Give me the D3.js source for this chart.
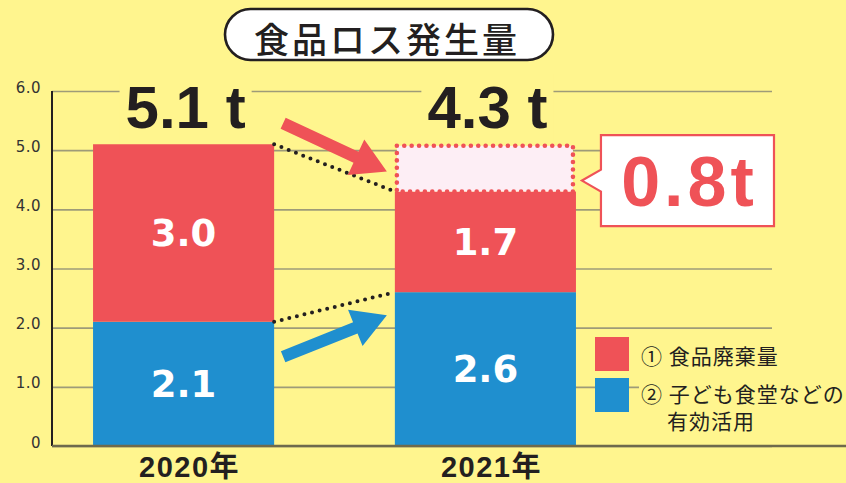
<!DOCTYPE html>
<html>
<head>
<meta charset="utf-8">
<script src="https://cdn.jsdelivr.net/npm/d3@7/dist/d3.min.js"></script>
<style>
  html, body { margin: 0; padding: 0; background: #FFF58E; }
  svg { display: block; }
</style>
</head>
<body>
<div id="chart"></div>
<script>
"use strict";

// == DATA ==
var years = ["2020年", "2021年"];
var waste = [3.0, 1.7];          // ① 食品廃棄量
var reuse = [2.1, 2.6];          // ② 子ども食堂などの有効活用
var reduction = 0.8;             // 2020 -> 2021 の減少分
var yTicks = [0, 1, 2, 3, 4, 5, 6];
var title = "食品ロス発生量";
var legendLines = [["① 食品廃棄量"], ["② 子ども食堂などの", "有効活用"]];

// == BOILERPLATE ==
var width = 846, height = 483;
var RED = "#EF5257", BLUE = "#1F8FCF", PINK = "#FDEEF5", INK = "#231F20", BG = "#FFF58E";

var svg = d3.select("#chart")
  .append("svg")
  .attr("width", width)
  .attr("height", height);

svg.append("rect").attr("width", width).attr("height", height).attr("fill", BG);

var rows = years.map(function (y, i) {
  return { year: y, reuse: reuse[i], waste: waste[i] };
});
var stack = d3.stack().keys(["reuse", "waste"])(rows);

var x = d3.scaleBand()
  .domain(years)
  .range([52, 617])
  .paddingInner(0.4)
  .paddingOuter(0.136);

var y = d3.scaleLinear()
  .domain([0, 6])
  .range([446, 91]);

// gridlines
svg.append("g")
  .attr("transform", "translate(52,0)")
  .call(d3.axisLeft(y).tickValues(yTicks).tickSize(-720).tickFormat(""))
  .call(function (g) {
    g.select(".domain").remove();
    g.selectAll("line").attr("stroke", "#9E9B78").attr("stroke-width", 1.6);
  });

// tick labels
svg.append("g")
  .attr("transform", "translate(41,0)")
  .call(d3.axisLeft(y).tickValues(yTicks).tickSize(0)
    .tickFormat(function (d) { return d === 0 ? "0" : d.toFixed(1); }))
  .call(function (g) {
    g.select(".domain").remove();
    g.selectAll("text")
      .attr("x", 0)
      .attr("dy", null)
      .attr("y", 1)
      .attr("text-anchor", "end")
      .style("font-family", "'DejaVu Sans', sans-serif")
      .style("font-size", "15px")
      .style("letter-spacing", "0.5px")
      .attr("fill", "#333");
  });

// y axis line
svg.append("line")
  .attr("x1", 52).attr("x2", 52)
  .attr("y1", y(6)).attr("y2", y(0))
  .attr("stroke", INK).attr("stroke-width", 2);

// == BARS ==
var colors = { reuse: BLUE, waste: RED };
svg.selectAll("g.layer")
  .data(stack)
  .enter()
  .append("g")
  .attr("class", "layer")
  .attr("fill", function (d) { return colors[d.key]; })
  .selectAll("rect")
  .data(function (d) { return d; })
  .enter()
  .append("rect")
  .attr("x", function (d) { return x(d.data.year); })
  .attr("y", function (d) { return y(d[1]); })
  .attr("width", x.bandwidth())
  .attr("height", function (d) { return y(d[0]) - y(d[1]); });

// reduction box (dotted) on top of 2021
var total0 = reuse[0] + waste[0], total1 = reuse[1] + waste[1];
var x1 = x(years[1]), bw = x.bandwidth();
svg.append("rect")
  .attr("x", x1 + 2)
  .attr("y", y(total1 + reduction) + 1.5)
  .attr("width", bw - 5)
  .attr("height", y(total1) - y(total1 + reduction) - 1.5)
  .attr("fill", PINK)
  .attr("stroke", RED)
  .attr("stroke-width", 4.6)
  .attr("stroke-linecap", "round")
  .attr("stroke-dasharray", "0 7.4");

// dotted connectors
var x0r = x(years[0]) + bw;
[[total0, total1], [reuse[0], reuse[1]]].forEach(function (p) {
  svg.append("line")
    .attr("x1", x0r).attr("y1", y(p[0]))
    .attr("x2", x1).attr("y2", y(p[1]))
    .attr("stroke", INK)
    .attr("stroke-width", 4)
    .attr("stroke-linecap", "round")
    .attr("stroke-dasharray", "0 7.8");
});

// arrows
function arrow(sx, sy, tx, ty, fill) {
  var dx = tx - sx, dy = ty - sy, len = Math.sqrt(dx * dx + dy * dy);
  var ux = dx / len, uy = dy / len, px = -uy, py = ux;
  var bx = tx - ux * 34, by = ty - uy * 34;
  var pts = [
    [sx + px * 6, sy + py * 6], [bx + px * 6, by + py * 6], [bx + px * 19.5, by + py * 19.5],
    [tx, ty],
    [bx - px * 19.5, by - py * 19.5], [bx - px * 6, by - py * 6], [sx - px * 6, sy - py * 6]
  ];
  svg.append("polygon").attr("points", pts.join(" ")).attr("fill", fill);
}
arrow(x0r + 9, y(total0) - 21, x1 - 8, y(total1) - 20, RED);
arrow(x0r + 9, y(reuse[0]) + 35, x1 - 8, y(reuse[1]) + 23, BLUE);

// value labels inside segments
stack.forEach(function (layer) {
  layer.forEach(function (d) {
    svg.append("text")
      .attr("x", x(d.data.year) + bw / 2)
      .attr("y", y((d[0] + d[1]) / 2))
      .attr("dy", "0.36em")
      .attr("text-anchor", "middle")
      .attr("fill", "#fff")
      .style("font-family", "'DejaVu Sans', sans-serif")
      .style("font-weight", "bold")
      .style("font-size", "37px")
      .text((d[1] - d[0]).toFixed(1));
  });
});

// totals above bars
[total0, total1].forEach(function (t, i) {
  var g = svg.append("g");
  var txt = g.append("text")
    .attr("x", x(years[i]) + bw / 2 + 2)
    .attr("y", 128)
    .attr("text-anchor", "middle")
    .attr("fill", INK)
    .style("font-family", "'Liberation Sans', Arial, sans-serif")
    .style("font-weight", "bold")
    .style("font-size", "60px")
    .text(t.toFixed(1) + " t");
  var b = txt.node().getBBox();
  g.insert("rect", "text")
    .attr("x", b.x - 6).attr("y", b.y)
    .attr("width", b.width + 12).attr("height", b.height)
    .attr("fill", BG);
});

// callout "0.8t"
var cy = y(total1) - 11, bx0 = x1 + bw + 25, bx1 = 774, tipX = x1 + bw + 6;
svg.append("path")
  .attr("d", "M" + bx0 + "," + (cy - 45.5) + "H" + bx1 + "V" + (cy + 45.5) + "H" + bx0 +
    "V" + (cy + 11) + "L" + tipX + "," + cy + "L" + bx0 + "," + (cy - 11) + "Z")
  .attr("fill", "#fff")
  .attr("stroke", RED)
  .attr("stroke-width", 2.2);
svg.append("text")
  .attr("x", (bx0 + bx1) / 2 + 2)
  .attr("y", cy + 25)
  .attr("text-anchor", "middle")
  .attr("fill", RED)
  .style("font-family", "'Liberation Sans', Arial, sans-serif")
  .style("font-weight", "bold")
  .style("font-size", "70px")
  .style("letter-spacing", "4px")
  .text(reduction.toFixed(1) + "t");

// == LEGEND ==
svg.append("rect")
  .attr("x", 639).attr("y", 340).attr("width", 140).attr("height", 95)
  .attr("fill", BG);
var legendColors = [RED, BLUE];
legendLines.forEach(function (lines, i) {
  var top = 337 + i * 41;
  svg.append("rect")
    .attr("x", 595).attr("y", top)
    .attr("width", 34).attr("height", 34)
    .attr("fill", legendColors[i]);
  var t = svg.append("text")
    .attr("fill", INK)
    .style("font-family", "'Noto Sans CJK JP', sans-serif")
    .style("font-size", "21px")
    .style("letter-spacing", "1px");
  lines.forEach(function (l, j) {
    t.append("tspan")
      .attr("x", j === 0 ? 641 : 667)
      .attr("y", top + 26 - (i === 1 ? 2 : -1) + j * 27)
      .text(l);
  });
});

// x labels
svg.selectAll("text.xlab")
  .data(years)
  .enter()
  .append("text")
  .attr("class", "xlab")
  .attr("x", function (d) { return x(d) + bw / 2 + 6; })
  .attr("y", 477)
  .attr("text-anchor", "middle")
  .attr("fill", INK)
  .style("font-family", "'Liberation Sans', 'Noto Sans CJK JP', sans-serif")
  .style("font-weight", "bold")
  .style("font-size", "29px")
  .style("letter-spacing", "1.5px")
  .text(function (d) { return d; });

// baseline
svg.append("line")
  .attr("x1", 52).attr("x2", width)
  .attr("y1", y(0)).attr("y2", y(0))
  .attr("stroke", "#6E6A4C").attr("stroke-width", 2.4);

// == TITLE ==
svg.append("rect")
  .attr("x", 225).attr("y", 9)
  .attr("width", 328).attr("height", 51)
  .attr("rx", 25.5)
  .attr("fill", "#fff")
  .attr("stroke", INK)
  .attr("stroke-width", 2.6);
svg.append("text")
  .attr("x", 387)
  .attr("y", 37)
  .attr("dominant-baseline", "central")
  .attr("text-anchor", "middle")
  .attr("fill", INK)
  .style("font-family", "'Noto Sans CJK JP', sans-serif")
  .style("font-weight", 500)
  .style("font-size", "35px")
  .style("letter-spacing", "3px")
  .text(title);
</script>
</body>
</html>
